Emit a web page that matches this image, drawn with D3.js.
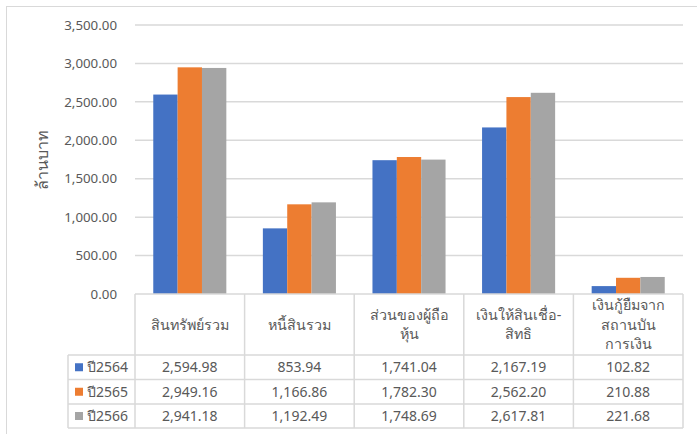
<html>
<head>
	<title>Chart</title>
	<meta charset="utf-8">
	<script src="https://d3js.org/d3.v7.min.js"></script>
	<style>
		body { margin: 0; background: #fff; }
		text { font-family: Tahoma, "Noto Sans", "DejaVu Sans", sans-serif; fill: #595959; }
	</style>
</head>
<body>
	<script type="text/javascript">
		var width = 697
		var height = 434

		// data
		var categories = [
			["สินทรัพย์รวม"],
			["หนี้สินรวม"],
			["ส่วนของผู้ถือ", "หุ้น"],
			["เงินให้สินเชื่อ-", "สิทธิ"],
			["เงินกู้ยืมจาก", "สถานบัน", "การเงิน"]
		]
		var seriesNames = ["ปี2564", "ปี2565", "ปี2566"]
		var v2564 = [2594.98, 853.94, 1741.04, 2167.19, 102.82]
		var v2565 = [2949.16, 1166.86, 1782.30, 2562.20, 210.88]
		var v2566 = [2941.18, 1192.49, 1748.69, 2617.81, 221.68]
		var yTicks = [0, 500, 1000, 1500, 2000, 2500, 3000, 3500]
		var colors = ["#4472C4", "#ED7D31", "#A5A5A5"]

		var series = [v2564, v2565, v2566]
		var fmt = d3.format(",.2f")

		var svg = d3.select("body").append("svg")
		  .attr("width", width)
		  .attr("height", height)

		// chart border (cut off at right / bottom)
		svg.append("rect")
			.attr("x", 6.5).attr("y", 6.5)
			.attr("width", 700).attr("height", 440)
			.attr("fill", "none").attr("stroke", "#d9d9d9")

		var pLeft = 135, pRight = 683, pTop = 25, pBottom = 294

		var x = d3.scaleBand().domain(d3.range(categories.length)).range([pLeft, pRight])
		var y = d3.scaleLinear().domain([0, 3500]).range([pBottom, pTop])

		// gridlines
		svg.append("g")
		  .selectAll("line")
		  .data(yTicks.slice(1))
		  .enter()
		  .append("line")
			.attr("x1", pLeft).attr("x2", pRight)
			.attr("y1", d => y(d)).attr("y2", d => y(d))
			.attr("stroke", "#d9d9d9").attr("stroke-width", 1.5)

		// y tick labels
		svg.append("g")
		  .selectAll("text")
		  .data(yTicks)
		  .enter()
		  .append("text")
			.attr("x", 117)
			.attr("y", d => y(d))
			.attr("dy", "0.35em")
			.attr("text-anchor", "end")
			.attr("font-size", 13.3)
			.text(d => fmt(d))

		// y axis title
		svg.append("text")
			.attr("transform", "translate(42,160) rotate(-90)")
			.attr("text-anchor", "middle")
			.attr("dy", "0.35em")
			.attr("font-size", 16)
			.text("ล้านบาท")

		// bars
		var bw = x.bandwidth() / 4.5
		var groups = svg.append("g")
		  .selectAll("g")
		  .data(series)
		  .enter()
		  .append("g")
			.attr("fill", (d, i) => colors[i])

		groups.selectAll("rect")
		  .data((d, si) => d.map((v, ci) => ({v: v, ci: ci, si: si})))
		  .enter()
		  .append("rect")
			.attr("x", d => x(d.ci) + bw * 0.75 + d.si * bw)
			.attr("width", bw)
			.attr("y", d => y(d.v))
			.attr("height", d => pBottom - y(d.v))

		// data table
		var rowY = [294, 355, 379.5, 404, 428]
		var tableLeft = 68
		var g = svg.append("g").attr("stroke", "#d9d9d9").attr("stroke-width", 1.5)

		// axis line / header top
		g.append("line").attr("x1", pLeft).attr("x2", pRight).attr("y1", pBottom).attr("y2", pBottom)
		// column lines
		g.selectAll(".v")
		  .data(d3.range(categories.length + 1))
		  .enter()
		  .append("line")
			.attr("x1", i => i < categories.length ? x(i) : pRight)
			.attr("x2", i => i < categories.length ? x(i) : pRight)
			.attr("y1", pBottom).attr("y2", rowY[4])
		// header bottom + rows
		g.selectAll(".h")
		  .data(rowY.slice(1))
		  .enter()
		  .append("line")
			.attr("x1", tableLeft).attr("x2", pRight)
			.attr("y1", d => d).attr("y2", d => d)
		g.append("line").attr("x1", tableLeft).attr("x2", tableLeft).attr("y1", rowY[1]).attr("y2", rowY[4])

		// header labels
		var lh = 19.5
		svg.append("g")
		  .selectAll("text")
		  .data(categories)
		  .enter()
		  .append("text")
			.attr("text-anchor", "middle")
			.attr("font-size", 14.3)
			.each(function(lines, i) {
				var cy = (rowY[0] + rowY[1]) / 2 - (lines.length - 1) * lh / 2
				d3.select(this).selectAll("tspan")
				  .data(lines)
				  .enter()
				  .append("tspan")
					.attr("x", x(i) + x.bandwidth() / 2)
					.attr("y", (d, j) => cy + j * lh)
					.attr("dy", "0.35em")
					.text(d => d)
			})

		// rows
		series.forEach(function(vals, si) {
			var cy = (rowY[si + 1] + rowY[si + 2]) / 2
			svg.append("rect")
				.attr("x", 75).attr("y", cy - 4)
				.attr("width", 8).attr("height", 8)
				.attr("fill", colors[si])
			svg.append("text")
				.attr("x", 87).attr("y", cy).attr("dy", "0.35em")
				.attr("font-size", 14)
				.text(seriesNames[si])
			svg.append("g")
			  .selectAll("text")
			  .data(vals)
			  .enter()
			  .append("text")
				.attr("x", (d, i) => x(i) + x.bandwidth() / 2)
				.attr("y", cy).attr("dy", "0.35em")
				.attr("text-anchor", "middle")
				.attr("font-size", 14)
				.text(d => fmt(d))
		})
	</script>
</body>
</html>
